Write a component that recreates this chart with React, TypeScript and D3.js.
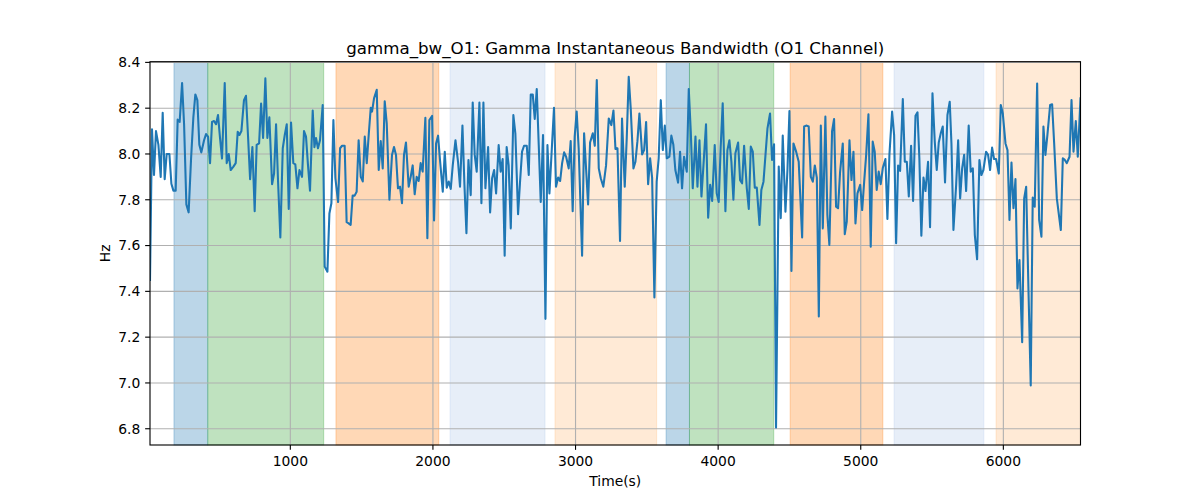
import React from "react";
import * as d3 from "d3";

const title = "gamma_bw_O1: Gamma Instantaneous Bandwidth (O1 Channel)";
const xLabel = "Time(s)";
const yLabel = "Hz";
const xTicks = [1000, 2000, 3000, 4000, 5000, 6000];
const yTicks = [6.8, 7.0, 7.2, 7.4, 7.6, 7.8, 8.0, 8.2, 8.4];
const xDomain = [16, 6541];
const yDomain = [6.729, 8.403];

const bandStarts = [184, 421, 1320, 2120, 2856, 3635, 3799, 4505, 5234, 5949];
const bandEnds = [421, 1234, 2041, 2786, 3569, 3799, 4390, 5155, 5863, 6541];
const bandKinds = ["blue", "green", "orange", "lightblue", "lightorange", "blue", "green", "orange", "lightblue", "lightorange"];
const bandColors: Record<string, [string, number]> = {
  blue: ["#1f77b4", 0.3],
  green: ["#2ca02c", 0.3],
  orange: ["#ff7f0e", 0.3],
  lightblue: ["#aec7e8", 0.3],
  lightorange: ["#ffbb78", 0.3],
};

const times = [
  16, 30, 44, 58, 75, 91, 105, 119, 133, 152, 166, 180, 196, 210, 224, 241, 255, 271, 287, 304,
  320, 334, 348, 362, 376, 395, 409, 423, 437, 451, 465, 479, 493, 507, 521, 540, 554, 568, 582, 601,
  617, 631, 643, 657, 675, 689, 703, 718, 734, 750, 764, 781, 795, 809, 825, 839, 853, 872, 886, 900,
  914, 930, 947, 961, 975, 989, 1005, 1021, 1035, 1050, 1064, 1082, 1096, 1110, 1124, 1138,
  1157, 1169, 1180, 1194, 1208, 1227, 1241, 1260, 1274, 1288, 1302, 1316, 1335, 1349, 1363, 1381, 1395, 1409, 1423, 1437,
  1451, 1465, 1479, 1494, 1508, 1522, 1536, 1550, 1564, 1573, 1587, 1606, 1620, 1634, 1648, 1662, 1676, 1695, 1713, 1727,
  1741, 1755, 1769, 1783, 1797, 1811, 1830, 1844, 1858, 1872, 1886, 1900, 1914, 1928, 1947, 1961, 1975, 1994, 2008, 2022,
  2036, 2050, 2069, 2083, 2097, 2111, 2125, 2139, 2158, 2176, 2190,
  2207, 2221, 2235, 2249, 2265, 2279, 2293, 2307, 2326, 2340, 2354, 2368, 2387, 2401, 2415, 2429, 2443, 2461, 2475, 2489,
  2503, 2517, 2531, 2546, 2564, 2578, 2597, 2611, 2625, 2639, 2658, 2672, 2686, 2700, 2714, 2728, 2742, 2756, 2772, 2789,
  2803, 2817, 2835, 2849, 2863, 2878, 2892, 2906, 2920, 2934, 2952, 2966, 2980, 2994, 3008, 3022, 3046, 3060, 3088, 3102,
  3121, 3135, 3149, 3163, 3177, 3195, 3214, 3233,
  3251, 3266, 3280, 3294, 3312, 3326, 3345, 3359, 3373, 3387, 3406, 3420, 3434, 3448, 3467, 3481, 3495, 3509, 3523, 3537,
  3553, 3569, 3583, 3598, 3612, 3626, 3640, 3658, 3672, 3686, 3700, 3719, 3733, 3747, 3761, 3780, 3794, 3808, 3822, 3841,
  3855, 3869, 3883, 3897, 3915, 3930, 3944, 3958, 3976, 3990, 4004, 4018, 4032, 4051, 4065, 4079, 4093, 4107, 4121, 4140,
  4154, 4168, 4182, 4201, 4215, 4229, 4243, 4257, 4271, 4290,
  4303, 4318, 4332, 4346, 4364, 4378, 4392, 4406, 4425, 4439, 4453, 4472, 4486, 4500, 4514, 4528, 4547, 4565, 4589, 4603,
  4621, 4635, 4650, 4664, 4678, 4692, 4706, 4720, 4734, 4752, 4766, 4780, 4799, 4813, 4827, 4841, 4855, 4874, 4888, 4902,
  4921, 4935, 4949, 4963, 4977, 4996, 5010, 5024, 5038, 5054, 5070, 5084, 5098, 5112, 5126, 5140, 5155, 5173, 5187, 5201,
  5220, 5234, 5248, 5262, 5276, 5295, 5309, 5323, 5337, 5353, 5367, 5384, 5398,
  5411, 5425, 5440, 5454, 5472, 5486, 5503, 5519, 5533, 5547, 5561, 5575, 5591, 5608, 5624, 5636, 5650, 5669, 5683, 5697,
  5711, 5725, 5739, 5757, 5771, 5786, 5800, 5816, 5832, 5846, 5860, 5879, 5893, 5907, 5921, 5935, 5949, 5968, 5982, 5996,
  6015, 6029, 6043, 6057, 6071, 6085, 6099, 6113, 6132, 6146, 6160, 6176, 6192, 6206, 6220, 6237, 6251, 6267, 6281, 6295,
  6309, 6328, 6342, 6356, 6375, 6403, 6417, 6431, 6445, 6464, 6478, 6492, 6508, 6522, 6541,
];

const values = [
  7.45, 8.108, 7.908, 8.1, 8.04, 7.9, 8.18, 7.89, 8.0, 8.0, 7.87, 7.84, 7.84, 8.15, 8.14, 8.31, 8.13, 7.78, 7.745, 7.98,
  8.16, 8.26, 8.235, 8.04, 8.007, 8.06, 8.087, 8.076, 7.96, 8.14, 8.144, 8.13, 8.17, 8.07, 7.98, 8.31, 7.96, 8.0, 7.93, 7.945,
  7.96, 8.097, 8.083, 8.1, 8.235, 8.254, 8.083, 7.89, 8.03, 7.75, 8.04, 8.046, 8.22, 8.07, 8.33, 8.07, 8.16, 7.868, 7.915, 8.13,
  7.88, 7.635, 8.025, 8.083, 8.13, 7.76, 8.137, 7.96, 7.955, 7.85, 7.93, 7.9, 8.1, 8.076, 7.95, 7.84,
  8.19, 8.03, 8.07, 8.025, 8.06, 8.214, 7.508, 7.486, 7.74, 7.785, 8.148, 7.894, 7.79, 8.025, 8.036, 8.036, 7.702, 7.697, 7.69, 7.818,
  7.818, 7.835, 8.06, 7.9, 7.88, 8.076, 7.96, 8.086, 8.202, 8.185, 8.243, 8.28, 7.93, 8.056, 7.937, 8.23, 8.134, 7.8, 7.996, 8.03,
  7.996, 7.85, 7.857, 7.785, 7.996, 8.05, 7.857, 7.9, 7.95, 7.824, 7.9, 7.882, 7.96, 7.923, 8.158, 7.632, 8.148, 8.166, 7.71, 8.046,
  8.08, 7.97, 7.835, 8.01, 7.853, 7.88, 7.847, 7.95, 8.06, 7.966, 7.857,
  8.124, 7.865, 7.654, 7.974, 7.82, 8.225, 7.996, 7.923, 8.225, 7.785, 8.225, 7.85, 8.03, 7.745, 7.894, 7.93, 7.828, 8.039, 7.923, 7.978,
  7.556, 8.03, 7.95, 7.675, 8.17, 8.09, 7.737, 7.88, 8.01, 8.036, 8.036, 7.908, 8.26, 8.26, 8.153, 8.284, 8.039, 7.79, 8.083, 7.28,
  8.039, 7.828, 8.039, 8.202, 7.857, 7.897, 7.882, 7.96, 8.007, 7.988, 7.937, 8.056, 7.75, 8.076, 8.185, 8.025, 7.556, 8.09, 7.78, 8.05,
  8.09, 8.036, 8.323, 7.937, 7.894, 7.857, 7.95, 8.155,
  8.126, 8.19, 8.022, 8.025, 7.62, 8.155, 7.857, 8.068, 8.337, 8.199, 7.937, 7.966, 8.056, 8.177, 7.998, 8.017, 8.14, 7.868, 7.981, 7.897,
  7.373, 7.879, 7.981, 8.235, 8.017, 8.124, 7.981, 7.988, 8.08, 8.04, 7.93, 7.875, 8.01, 7.85, 7.988, 7.923, 8.284, 8.1, 7.85, 8.076,
  7.857, 8.06, 7.814, 7.95, 8.13, 7.722, 7.865, 7.795, 8.039, 7.828, 7.79, 8.032, 8.221, 7.75, 8.017, 8.06, 7.966, 7.8, 8.003, 8.05,
  7.886, 7.872, 8.036, 7.85, 7.76, 8.032, 8.01, 7.853, 7.853, 7.69,
  7.843, 7.879, 7.996, 8.112, 8.177, 7.974, 8.042, 6.805, 7.945, 7.72, 8.08, 7.748, 7.93, 8.188, 7.489, 8.046, 8.01, 7.966, 7.635, 8.12,
  8.124, 8.12, 7.9, 7.879, 7.95, 7.897, 7.29, 8.124, 7.675, 8.163, 7.734, 7.603, 8.1, 8.153, 7.77, 7.763, 7.92, 8.046, 7.65, 7.705,
  8.06, 7.886, 8.01, 7.697, 7.828, 7.865, 7.755, 7.879, 7.996, 8.173, 7.595, 8.054, 8.01, 7.843, 7.923, 7.868, 7.94, 7.978, 7.716, 7.996,
  8.185, 8.083, 7.61, 7.95, 7.926, 8.24, 7.966, 7.966, 7.814, 8.036, 7.795, 8.167, 8.182,
  7.981, 7.643, 7.897, 7.838, 7.966, 7.68, 8.265, 8.054, 7.93, 8.05, 8.09, 8.12, 7.876, 8.17, 8.228, 8.046, 7.668, 7.865, 8.06, 7.806,
  7.937, 7.996, 7.838, 8.124, 7.923, 7.937, 7.646, 7.54, 7.974, 7.908, 7.93, 8.01, 7.996, 7.93, 8.028, 7.978, 7.978, 7.915, 8.214, 8.177,
  8.046, 8.017, 7.712, 7.963, 7.763, 7.89, 7.413, 7.537, 7.178, 7.806, 7.857, 7.41, 6.989, 7.81, 7.77, 8.308, 7.712, 7.639, 8.12, 7.996,
  8.083, 8.214, 8.217, 8.05, 7.806, 7.668, 7.981, 7.974, 7.96, 7.988, 8.236, 8.01, 8.144, 7.988, 8.243,
];

const W = 1200;
const H = 500;
const L = 150;
const R = 1080.5;
const T = 61.7;
const B = 445;
const FONT = "DejaVu Sans, Liberation Sans, sans-serif";
const PT = 100 / 72;

export default function App() {
  const x = d3.scaleLinear().domain(xDomain).range([L, R]);
  const y = d3.scaleLinear().domain(yDomain).range([B, T]);
  const pts: [number, number][] = times.map((t, i) => [t, values[i]]);
  const line = d3
    .line<[number, number]>()
    .x((d) => x(d[0]))
    .y((d) => y(d[1]));
  const tickLen = 3.5 * PT;
  const fs = 10 * PT;

  return (
    <svg
      width={W}
      height={H}
      style={{ position: "absolute", left: 0, top: 0, background: "#fff" }}
      fontFamily={FONT}
    >
      <rect x={0} y={0} width={W} height={H} fill="#fff" />
      <defs>
        <clipPath id="plotclip">
          <rect x={L} y={T} width={R - L} height={B - T} />
        </clipPath>
      </defs>
      {bandStarts.map((s, i) => {
        const [c, a] = bandColors[bandKinds[i]];
        return (
          <rect
            key={"b" + i}
            x={x(s)}
            y={T}
            width={x(bandEnds[i]) - x(s)}
            height={B - T}
            fill={c}
            fillOpacity={a}
            stroke={c}
            strokeOpacity={a}
            strokeWidth={1}
          />
        );
      })}
      {xTicks.map((t) => (
        <line key={"gx" + t} x1={x(t)} x2={x(t)} y1={T} y2={B} stroke="#b0b0b0" strokeWidth={0.8 * PT} />
      ))}
      {yTicks.map((t) => (
        <line key={"gy" + t} x1={L} x2={R} y1={y(t)} y2={y(t)} stroke="#b0b0b0" strokeWidth={0.8 * PT} />
      ))}
      <path
        d={line(pts) || ""}
        fill="none"
        stroke="#1f77b4"
        strokeWidth={1.5 * PT}
        strokeLinejoin="round"
        strokeLinecap="square"
        clipPath="url(#plotclip)"
      />
      <rect x={L} y={T} width={R - L} height={B - T} fill="none" stroke="#000" strokeWidth={0.8 * PT} />
      {xTicks.map((t) => (
        <g key={"tx" + t}>
          <line x1={x(t)} x2={x(t)} y1={B} y2={B + tickLen} stroke="#000" strokeWidth={0.8 * PT} />
          <text x={x(t)} y={466} textAnchor="middle" fontSize={fs} fill="#000">
            {t}
          </text>
        </g>
      ))}
      {yTicks.map((t) => (
        <g key={"ty" + t}>
          <line x1={L - tickLen} x2={L} y1={y(t)} y2={y(t)} stroke="#000" strokeWidth={0.8 * PT} />
          <text x={L - 2 * tickLen} y={y(t)} dy="0.35em" textAnchor="end" fontSize={fs} fill="#000">
            {t.toFixed(1)}
          </text>
        </g>
      ))}
      <text x={(L + R) / 2} y={53.5} textAnchor="middle" fontSize={12 * PT} fill="#000">
        {title}
      </text>
      <text x={(L + R) / 2} y={486} textAnchor="middle" fontSize={fs} fill="#000">
        {xLabel}
      </text>
      <text
        transform={`translate(110, ${(T + B) / 2}) rotate(-90)`}
        textAnchor="middle"
        fontSize={fs}
        fill="#000"
      >
        {yLabel}
      </text>
    </svg>
  );
}
